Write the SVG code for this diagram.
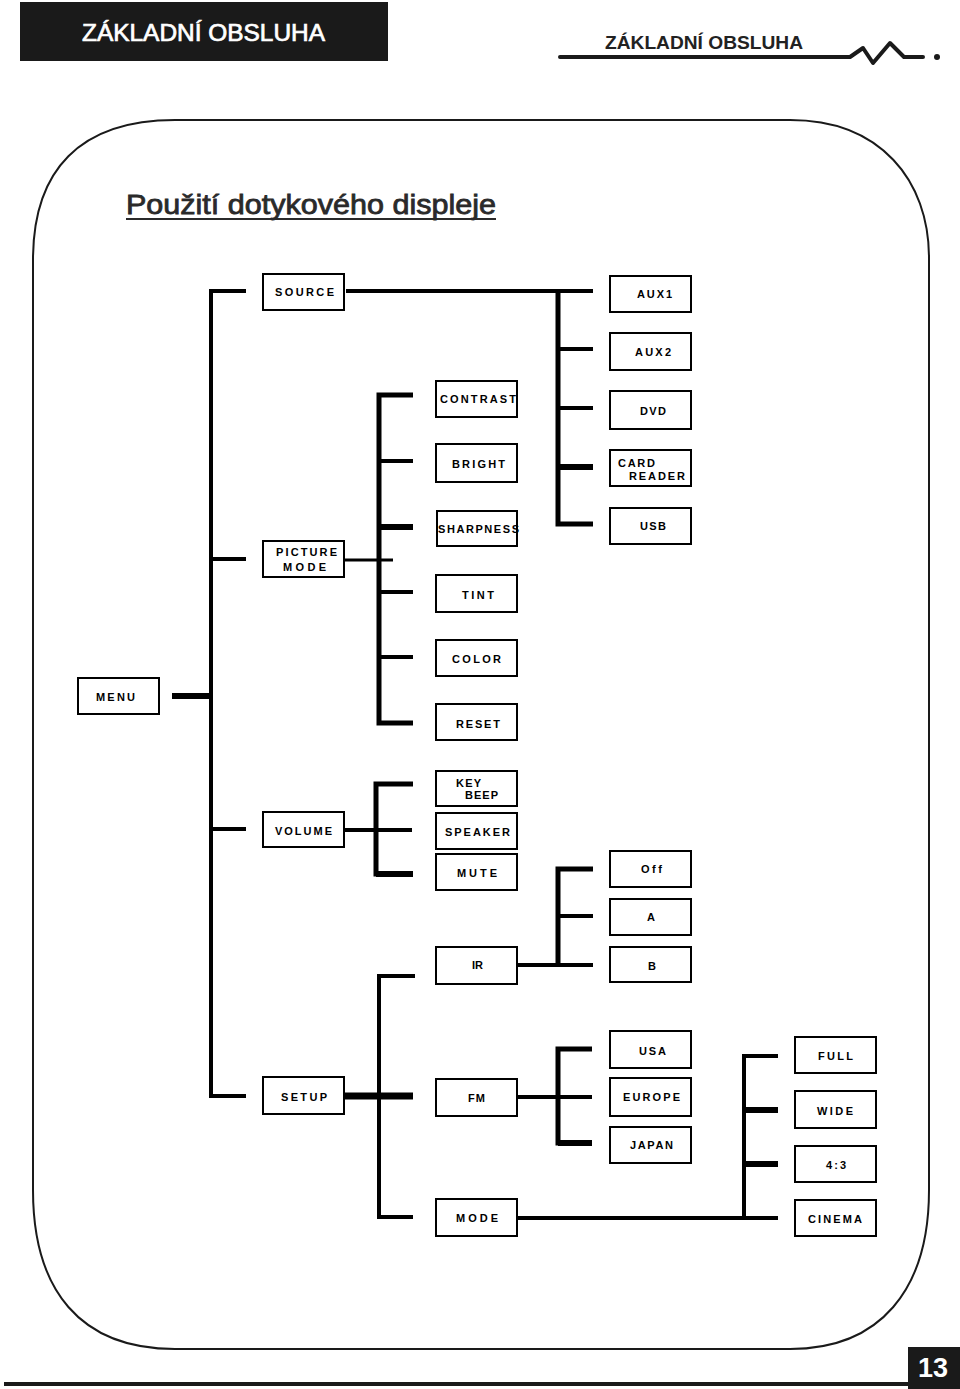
<svg xmlns="http://www.w3.org/2000/svg" width="960" height="1389" viewBox="0 0 960 1389">
<style>
.box{fill:#fff;stroke:#000;stroke-width:2}
.lbl{font-family:"Liberation Sans",Arial,sans-serif;font-size:11px;font-weight:bold;fill:#000}
.ln{stroke:#000;stroke-width:4;fill:none;stroke-linejoin:miter;stroke-linecap:butt}
.w3{stroke-width:3}.w5{stroke-width:5}.w6{stroke-width:6}.w7{stroke-width:7}
.hd{font-family:"Liberation Sans",Arial,sans-serif}
</style>
<rect width="960" height="1389" fill="#fff"/>
<!-- header -->
<g id="header">
<rect x="20" y="2" width="368" height="59" fill="#1a1a1a"/>
<text class="hd" x="82" y="41" font-size="24" fill="#fff" stroke="#fff" stroke-width="0.7" textLength="243" lengthAdjust="spacingAndGlyphs">ZÁKLADNÍ OBSLUHA</text>
<text class="hd" x="605" y="49" font-size="19" font-weight="bold" fill="#222" textLength="198" lengthAdjust="spacingAndGlyphs">ZÁKLADNÍ OBSLUHA</text>
<path d="M560,57 H850 L863,48 L873,63 L890,43 L904,57 H923" stroke="#1a1a1a" stroke-width="4" fill="none" stroke-linecap="round" stroke-linejoin="round"/>
<circle cx="937" cy="57" r="3" fill="#1a1a1a"/>
</g>
<!-- frame -->
<path d="M175,120 H790 C880,120 929,180 929,258 V1190 C929,1290 880,1349 790,1349 H175 C80,1349 33,1290 33,1190 V260 C33,170 80,120 175,120 Z" fill="none" stroke="#1a1a1a" stroke-width="2"/>
<g id="title">
<text class="hd" x="126" y="214" font-size="28" fill="#2a2a2a" stroke="#2a2a2a" stroke-width="0.8" textLength="370" lengthAdjust="spacingAndGlyphs">Použití dotykového displeje</text>
<line x1="126" y1="219" x2="496" y2="219" stroke="#2a2a2a" stroke-width="2"/>
</g>
<!-- connectors -->
<g id="connectors">
<path class="ln" d="M246,291 H211 V1096 H246"/>
<path class="ln" d="M211,559 H246"/>
<path class="ln w6" d="M172,696 H211"/>
<path class="ln" d="M211,829 H246"/>
<path class="ln" d="M346,291 H593"/>
<path class="ln w5" d="M558,291 V524 H593"/>
<path class="ln" d="M558,349 H593"/>
<path class="ln" d="M558,408 H593"/>
<path class="ln w6" d="M558,467 H593"/>
<path class="ln w5" d="M413,395 H379 V723 H413"/>
<path class="ln" d="M379,461 H413"/>
<path class="ln w6" d="M379,527 H413"/>
<path class="ln w3" d="M344,560 H393"/>
<path class="ln" d="M379,592 H413"/>
<path class="ln" d="M379,657 H413"/>
<path class="ln w5" d="M413,784 H376 V874 H413"/>
<path class="ln w6" d="M376,874 H413"/>
<path class="ln" d="M344,830 H412"/>
<path class="ln" d="M517,965 H593"/>
<path class="ln w5" d="M593,869 H558 V965"/>
<path class="ln" d="M558,916 H593"/>
<path class="ln" d="M415,976 H379 V1217 H413"/>
<path class="ln w7" d="M344,1096 H413"/>
<path class="ln" d="M517,1097 H592"/>
<path class="ln w5" d="M592,1049 H558 V1143 H592"/>
<path class="ln w6" d="M558,1143 H592"/>
<path class="ln" d="M517,1218 H778"/>
<path class="ln" d="M778,1056 H744 V1218"/>
<path class="ln w6" d="M744,1110 H778"/>
<path class="ln w6" d="M744,1164 H778"/>
</g>
<!-- nodes -->
<g id="source"><rect class="box" x="263" y="274" width="81" height="36"/><text class="lbl" x="275" y="296" textLength="59">SOURCE</text></g>
<g id="aux1"><rect class="box" x="610" y="276" width="81" height="36"/><text class="lbl" x="637" y="298" textLength="35">AUX1</text></g>
<g id="aux2"><rect class="box" x="610" y="333" width="81" height="37"/><text class="lbl" x="635" y="356" textLength="36">AUX2</text></g>
<g id="dvd"><rect class="box" x="610" y="391" width="81" height="38"/><text class="lbl" x="640" y="415" textLength="26">DVD</text></g>
<g id="cardreader"><rect class="box" x="610" y="450" width="81" height="36"/><text class="lbl" x="618" y="467" textLength="37">CARD</text><text class="lbl" x="629" y="480" textLength="56">READER</text></g>
<g id="usb"><rect class="box" x="610" y="508" width="81" height="36"/><text class="lbl" x="640" y="530" textLength="26">USB</text></g>
<g id="contrast"><rect class="box" x="436" y="381" width="81" height="36"/><text class="lbl" x="440" y="403" textLength="76">CONTRAST</text></g>
<g id="bright"><rect class="box" x="436" y="444" width="81" height="38"/><text class="lbl" x="452" y="468" textLength="53">BRIGHT</text></g>
<g id="sharpness"><rect class="box" x="437" y="511" width="80" height="35"/><text class="lbl" x="438" y="533" textLength="81">SHARPNESS</text></g>
<g id="picturemode"><rect class="box" x="263" y="541" width="81" height="36"/><text class="lbl" x="276" y="556" textLength="61">PICTURE</text><text class="lbl" x="283" y="571" textLength="43">MODE</text></g>
<g id="tint"><rect class="box" x="436" y="575" width="81" height="37"/><text class="lbl" x="462" y="599" textLength="32">TINT</text></g>
<g id="color"><rect class="box" x="436" y="640" width="81" height="36"/><text class="lbl" x="452" y="663" textLength="49">COLOR</text></g>
<g id="reset"><rect class="box" x="436" y="704" width="81" height="36"/><text class="lbl" x="456" y="728" textLength="44">RESET</text></g>
<g id="menu"><rect class="box" x="78" y="678" width="81" height="36"/><text class="lbl" x="96" y="701" textLength="39">MENU</text></g>
<g id="keybeep"><rect class="box" x="436" y="771" width="81" height="35"/><text class="lbl" x="456" y="787" textLength="25">KEY</text><text class="lbl" x="465" y="799" textLength="33">BEEP</text></g>
<g id="speaker"><rect class="box" x="436" y="813" width="81" height="36"/><text class="lbl" x="445" y="836" textLength="65">SPEAKER</text></g>
<g id="mute"><rect class="box" x="436" y="854" width="81" height="36"/><text class="lbl" x="457" y="877" textLength="40">MUTE</text></g>
<g id="volume"><rect class="box" x="263" y="812" width="81" height="35"/><text class="lbl" x="275" y="835" textLength="57">VOLUME</text></g>
<g id="off"><rect class="box" x="610" y="851" width="81" height="36"/><text class="lbl" x="641" y="873" textLength="21">Off</text></g>
<g id="a"><rect class="box" x="610" y="899" width="81" height="36"/><text class="lbl" x="647" y="921">A</text></g>
<g id="b"><rect class="box" x="610" y="947" width="81" height="35"/><text class="lbl" x="648" y="970">B</text></g>
<g id="ir"><rect class="box" x="436" y="947" width="81" height="37"/><text class="lbl" x="472" y="969" textLength="11">IR</text></g>
<g id="setup"><rect class="box" x="263" y="1077" width="81" height="37"/><text class="lbl" x="281" y="1101" textLength="46">SETUP</text></g>
<g id="fm"><rect class="box" x="436" y="1079" width="81" height="37"/><text class="lbl" x="468" y="1102" textLength="17">FM</text></g>
<g id="usa"><rect class="box" x="610" y="1031" width="81" height="37"/><text class="lbl" x="639" y="1055" textLength="27">USA</text></g>
<g id="europe"><rect class="box" x="610" y="1078" width="81" height="38"/><text class="lbl" x="623" y="1101" textLength="57">EUROPE</text></g>
<g id="japan"><rect class="box" x="610" y="1127" width="81" height="36"/><text class="lbl" x="630" y="1149" textLength="43">JAPAN</text></g>
<g id="full"><rect class="box" x="795" y="1037" width="81" height="36"/><text class="lbl" x="818" y="1060" textLength="35">FULL</text></g>
<g id="wide"><rect class="box" x="795" y="1091" width="81" height="37"/><text class="lbl" x="817" y="1115" textLength="36">WIDE</text></g>
<g id="r43"><rect class="box" x="795" y="1146" width="81" height="36"/><text class="lbl" x="826" y="1169" textLength="20">4:3</text></g>
<g id="cinema"><rect class="box" x="795" y="1200" width="81" height="36"/><text class="lbl" x="808" y="1223" textLength="54">CINEMA</text></g>
<g id="mode"><rect class="box" x="436" y="1199" width="81" height="37"/><text class="lbl" x="456" y="1222" textLength="42">MODE</text></g>
<!-- footer -->
<g id="footer">
<line x1="4" y1="1384" x2="908" y2="1384" stroke="#1a1a1a" stroke-width="4"/>
<rect x="908" y="1347" width="52" height="42" fill="#1a1a1a"/>
<text class="hd" x="933" y="1377" font-size="27" font-weight="bold" fill="#fff" text-anchor="middle">13</text>
</g>
</svg>
